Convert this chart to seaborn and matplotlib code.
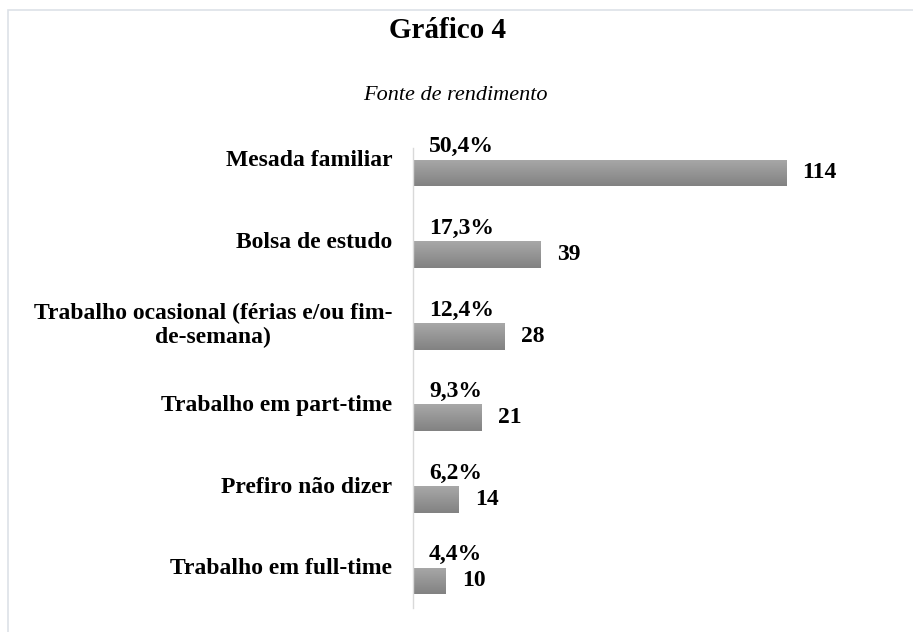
import numpy as np
import pandas as pd
import seaborn as sns
from matplotlib import pyplot as plt
from matplotlib.colors import LinearSegmentedColormap
from matplotlib.patches import Rectangle

# Dados do gráfico
categorias = ['Mesada familiar', 'Bolsa de estudo',
              'Trabalho ocasional (férias e/ou fim-\nde-semana)',
              'Trabalho em part-time', 'Prefiro não dizer', 'Trabalho em full-time']
contagens = [114, 39, 28, 21, 14, 10]
percentagens = ['50,4%', '17,3%', '12,4%', '9,3%', '6,2%', '4,4%']

df = pd.DataFrame({'categoria': categorias, 'n': contagens})

sns.set_theme(style='white')
plt.rcParams['font.family'] = ['Liberation Serif', 'DejaVu Serif']
plt.rcParams['text.color'] = 'black'
plt.rcParams['ytick.color'] = 'black'

fig = plt.figure(figsize=(9.13, 6.32), dpi=100)
ax = fig.add_axes([413 / 913, 24 / 632, 467 / 913, 460 / 632])

sns.barplot(data=df, x='n', y='categoria', orient='h', width=0.33,
            color='#999999', ax=ax)

# gradiente vertical nas barras (mais claro em cima)
grad = np.linspace(0, 1, 64).reshape(-1, 1)
cmap = LinearSegmentedColormap.from_list('g', ['#a8a8a8', '#828282'])
for p in ax.patches:
    x0, y0 = p.get_x(), p.get_y()
    w, h = p.get_width(), p.get_height()
    im = ax.imshow(grad, cmap=cmap, aspect='auto',
                   extent=(x0, x0 + w, y0 + h, y0), zorder=p.get_zorder() + 0.1)
    im.set_clip_path(p)

ax.set_xlim(0, 142.7)
ax.set_ylim(5.331, -0.306)

# rótulos: contagem no fim da barra, percentagem por cima
for i, (n, pc) in enumerate(zip(contagens, percentagens)):
    ax.annotate(str(n), (n, i), xytext=(16, 0), textcoords='offset pixels',
                ha='left', va='center', fontsize=17, fontweight='bold',
                annotation_clip=False)
    ax.annotate(pc, (0, i - 0.32), xytext=(16, 0), textcoords='offset pixels',
                ha='left', va='center', fontsize=17, fontweight='bold',
                annotation_clip=False)

ax.set_yticks(np.arange(len(categorias)) - 0.18, labels=categorias)
ax.tick_params(axis='y', length=0, pad=15, labelsize=17)
for t in ax.get_yticklabels():
    t.set_fontweight('bold')
    t.set_multialignment('center')
ax.set_xticks([])
ax.set_xlabel('')
ax.set_ylabel('')

for s in ['top', 'right', 'bottom']:
    ax.spines[s].set_visible(False)
ax.spines['left'].set_color('#d9d9d9')
ax.spines['left'].set_linewidth(1)

fig.text(447 / 913, 1 - 31 / 632, 'Gráfico 4', ha='center', va='center',
         fontsize=21, fontweight='bold')
fig.text(455 / 913, 1 - 95 / 632, 'Fonte de rendimento', ha='center', va='center',
         fontsize=16, fontstyle='italic')

# moldura do gráfico
fig.patches.append(Rectangle((8 / 913, -0.1), 1.2, 1.1 - 10 / 632,
                             transform=fig.transFigure, fill=False,
                             edgecolor='#dde1e8', linewidth=1.2))

fig.savefig('out.png', dpi=100)
